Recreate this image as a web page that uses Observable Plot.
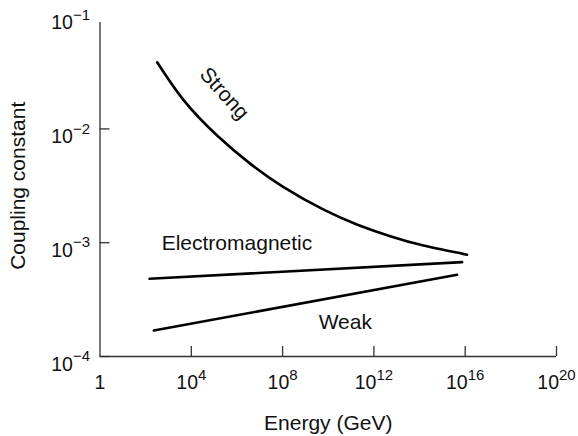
<!DOCTYPE html>
<html><head><meta charset="utf-8">
<script src="https://cdn.jsdelivr.net/npm/d3@7"></script>
<script src="https://cdn.jsdelivr.net/npm/@observablehq/plot@0.6"></script>
<style>body{margin:0;background:#fff} svg{display:block}</style>
</head><body><div id="chart"></div>
<script>
const xTicks = [1, 1e4, 1e8, 1e12, 1e16, 1e20];
const xTickLabels = ["1", "10^4", "10^8", "10^12", "10^16", "10^20"];
const yTicks = [1e-4, 1e-3, 1e-2, 1e-1];
const yTickLabels = ["10^\u22124", "10^\u22123", "10^\u22122", "10^\u22121"];
const strongEnergy = [320, 4.7e3, 1.35e5, 3.9e6, 1.1e8, 6.3e9, 1.9e11, 5.2e12, 1.5e14, 1.2e16];
const strongCoupling = [0.0385, 0.0178, 0.00875, 0.00493, 0.00308, 0.00195, 0.00144, 0.00114, 0.000943, 0.000785];
const emEnergy = [148, 7.3e15];
const emCoupling = [4.82e-4, 6.75e-4];
const weakEnergy = [228, 4.4e15];
const weakCoupling = [1.69e-4, 5.22e-4];
const seriesNames = ["Strong", "Electromagnetic", "Weak"];
const labelEnergy = [2.8e5, 1e6, 5.6e10];
const labelCoupling = [0.0205, 9.8e-4, 2.0e-4];
const labelRotate = [48, 0, 0];
const axisTop = 0.0861;

const toRows = (xs, ys) => xs.map((e, i) => ({e, c: ys[i]}));
const strong = toRows(strongEnergy, strongCoupling);
const em = toRows(emEnergy, emCoupling);
const weak = toRows(weakEnergy, weakCoupling);
const labels = seriesNames.map((name, i) => ({name, e: labelEnergy[i], c: labelCoupling[i], r: labelRotate[i]}));

const axisColor = "#333";
const chart = Plot.plot({
  width: 578, height: 436,
  marginLeft: 99.5, marginRight: 22, marginTop: 14.6, marginBottom: 80,
  style: {fontFamily: "'Liberation Sans', Arial, Helvetica, sans-serif", fontSize: "19px", color: "#111", background: "#fff"},
  x: {type: "log", domain: [1, 1e20]},
  y: {type: "log", domain: [1e-4, 1e-1]},
  marks: [
    Plot.axisX(xTicks, {tickSize: 0, tickPadding: 19, fontSize: 19, label: null,
      tickFormat: d => xTickLabels[xTicks.indexOf(d)]}),
    Plot.axisX(xTicks.slice(1), {tickSize: 10, dy: -10, text: null, label: null, stroke: axisColor, strokeWidth: 1.3}),
    Plot.axisY(yTicks, {tickSize: 0, tickPadding: 10, dy: 8, fontSize: 19, label: null,
      tickFormat: d => yTickLabels[yTicks.indexOf(d)]}),
    Plot.axisY(yTicks.slice(0, 3), {tickSize: 10, dx: 10, text: null, label: null, stroke: axisColor, strokeWidth: 1.3}),
    Plot.ruleY([1e-4], {x1: 1, x2: 1e20, stroke: axisColor, strokeWidth: 1.3}),
    Plot.ruleX([1], {y1: 1e-4, y2: axisTop, stroke: axisColor, strokeWidth: 1.3}),
    Plot.line(strong, {x: "e", y: "c", curve: "natural", stroke: "#000", strokeWidth: 2.6}),
    Plot.line(em, {x: "e", y: "c", stroke: "#000", strokeWidth: 2.6}),
    Plot.line(weak, {x: "e", y: "c", stroke: "#000", strokeWidth: 2.6}),
    Plot.text(labels, {x: "e", y: "c", text: "name", rotate: "r", fontSize: 21, fill: "#111"}),
    Plot.text(["Energy (GeV)"], {frameAnchor: "bottom", textAnchor: "middle", lineAnchor: "middle", dy: 67, fontSize: 21, fill: "#111"}),
    Plot.text(["Coupling constant"], {frameAnchor: "left", textAnchor: "middle", lineAnchor: "middle", rotate: -90, dx: -82, fontSize: 21, fill: "#111"})
  ]
});

chart.querySelectorAll('g[aria-label$="tick label"]').forEach(g => g.setAttribute("font-size", "19"));
chart.querySelectorAll('g[aria-label$="tick label"] text').forEach(t => {
  t.setAttribute("font-size", "19.5");
  const s = t.textContent;
  const k = s.indexOf("^");
  if (k < 0) return;
  t.textContent = s.slice(0, k);
  const sp = document.createElementNS("http://www.w3.org/2000/svg", "tspan");
  sp.setAttribute("font-size", "15");
  sp.setAttribute("dy", "-9.5");
  sp.textContent = s.slice(k + 1);
  t.appendChild(sp);
});
document.getElementById("chart").appendChild(chart);
</script>
</body></html>
